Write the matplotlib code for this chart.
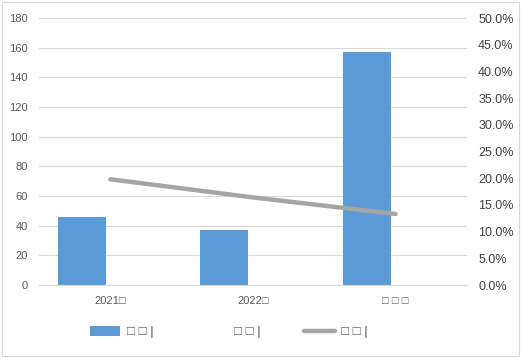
import matplotlib.pyplot as plt
import numpy as np
from matplotlib.patches import Patch, Rectangle
from matplotlib.lines import Line2D
from matplotlib.ticker import PercentFormatter

categories = ["2021□", "2022□", "□ □ □"]
bar_values = [46, 37, 157]
rate_values = [0.198, 0.164, 0.133]
legend_labels = ["□ □ |", "□ □ |", "□ □ |"]

bar_color = "#5B9BD5"
line_color = "#A5A5A5"
grid_color = "#D9D9D9"
text_color = "#595959"

plt.rcParams['font.family'] = ['Liberation Sans', 'DejaVu Sans']

fig = plt.figure(figsize=(5.26, 3.62), dpi=100)
ax = fig.add_axes([39/526, 1-285/362, (467-39)/526, (285-18)/362])

x = np.arange(len(categories))
ax.bar(x - 0.2, bar_values, width=0.336, color=bar_color, zorder=2)
ax.set_xlim(-0.5, 2.5)
ax.set_ylim(0, 180)
ax.set_yticks(range(0, 181, 20))
ax.set_xticks(x)
ax.set_xticklabels(categories)
ax.grid(axis='y', color=grid_color, linewidth=0.8, zorder=0)
for s in ['top', 'right', 'left']:
    ax.spines[s].set_visible(False)
ax.spines['bottom'].set_color(grid_color)
ax.tick_params(axis='both', length=0, labelsize=8, colors=text_color)
ax.tick_params(axis='x', pad=8)
ax.tick_params(axis='y', pad=8)

ax2 = ax.twinx()
ax2.plot(x, rate_values, color=line_color, linewidth=3.2, solid_capstyle='round', zorder=3)
ax2.set_ylim(0, 0.5)
ax2.set_yticks(np.arange(0, 0.501, 0.05))
ax2.yaxis.set_major_formatter(PercentFormatter(1.0, decimals=1))
for s in ax2.spines.values():
    s.set_visible(False)
ax2.tick_params(axis='y', length=0, labelsize=9, colors='#404040', pad=8)

handles = [Patch(facecolor=bar_color),
           Patch(facecolor='none', edgecolor='none'),
           Line2D([0], [0], color=line_color, linewidth=3.2, solid_capstyle='round')]
leg = fig.legend(handles, legend_labels, loc='center', bbox_to_anchor=(229/526, 1-332/362),
                 ncol=3, frameon=False, fontsize=9.5, columnspacing=3.3, handlelength=2.3,
                 handleheight=0.8, handletextpad=0.5)
for t in leg.get_texts():
    t.set_color(text_color)

fig.patches.append(Rectangle((2/526, 6/362), 517/526, 354/362, transform=fig.transFigure,
                             fill=False, edgecolor=grid_color, linewidth=0.8))

fig.savefig("out.png", dpi=100)
